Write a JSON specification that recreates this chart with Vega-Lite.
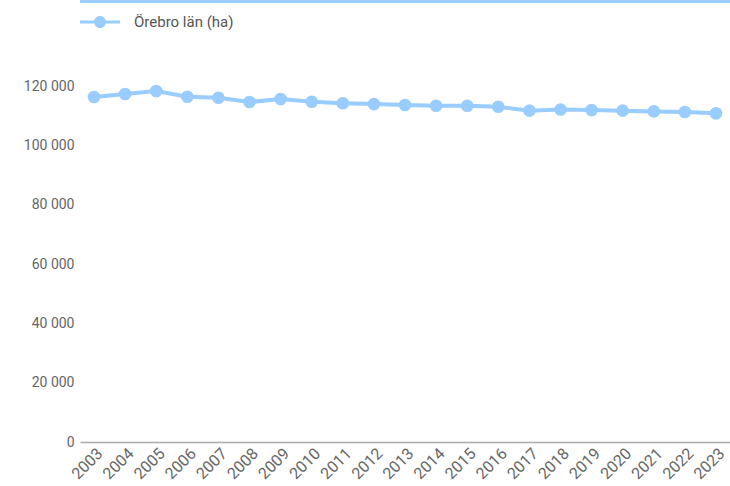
{
  "$schema": "https://vega.github.io/schema/vega-lite/v6.json",
  "width": 650,
  "height": 442,
  "padding": {"left": 80, "top": 0, "right": 0, "bottom": 44},
  "autosize": {"type": "none"},
  "background": "white",
  "config": {
    "font": "Roboto",
    "view": {"stroke": null}
  },
  "data": {
    "values": [
      {"year": "2003", "ha": 116300},
      {"year": "2004", "ha": 117300},
      {"year": "2005", "ha": 118300},
      {"year": "2006", "ha": 116400},
      {"year": "2007", "ha": 116050},
      {"year": "2008", "ha": 114600},
      {"year": "2009", "ha": 115600},
      {"year": "2010", "ha": 114700},
      {"year": "2011", "ha": 114200},
      {"year": "2012", "ha": 113900},
      {"year": "2013", "ha": 113600},
      {"year": "2014", "ha": 113350},
      {"year": "2015", "ha": 113350},
      {"year": "2016", "ha": 113000},
      {"year": "2017", "ha": 111700},
      {"year": "2018", "ha": 112100},
      {"year": "2019", "ha": 111900},
      {"year": "2020", "ha": 111700},
      {"year": "2021", "ha": 111450},
      {"year": "2022", "ha": 111250},
      {"year": "2023", "ha": 110800}
    ]
  },
  "encoding": {
    "x": {
      "field": "year",
      "type": "ordinal",
      "scale": {"type": "point", "padding": 0.45},
      "axis": {
        "title": null,
        "labelAngle": -45,
        "labelAlign": "right",
        "labelBaseline": "top",
        "labelFontSize": 16,
        "labelColor": "#666666",
        "labelPadding": 3,
        "ticks": false,
        "domainColor": "#aaaaaa",
        "domainWidth": 1.5,
        "grid": false
      }
    },
    "y": {
      "field": "ha",
      "type": "quantitative",
      "scale": {"domain": [0, 149000], "nice": false},
      "axis": {
        "title": null,
        "values": [0, 20000, 40000, 60000, 80000, 100000, 120000],
        "labelExpr": "replace(format(datum.value, ','), ',', ' ')",
        "labelFontSize": 14,
        "labelColor": "#666666",
        "labelPadding": 6,
        "ticks": false,
        "domain": false,
        "grid": false
      }
    },
    "color": {
      "datum": "Örebro län (ha)",
      "type": "nominal",
      "scale": {"range": ["#99ccff"]},
      "legend": {
        "title": null,
        "orient": "none",
        "legendX": 0,
        "legendY": 2,
        "padding": 0,
        "symbolType": "M-1,-0.07 H1 V0.07 H-1 Z M0.3,0 A0.3,0.3 0 1,1 -0.3,0 A0.3,0.3 0 1,1 0.3,0 Z",
        "symbolSize": 1600,
        "symbolStrokeWidth": 0,
        "symbolFillColor": "#99ccff",
        "labelFontSize": 15,
        "labelColor": "#555555",
        "labelOffset": 14,
        "labelFont": "Roboto",
        "encode": {
          "symbols": {"update": {"fill": {"value": "#99ccff"}, "stroke": {"value": "transparent"}}}
        }
      }
    }
  },
  "layer": [
    {
      "mark": {"type": "rule", "color": "#99ccff", "strokeWidth": 6},
      "encoding": {
        "y": {"datum": 149000},
        "x": null,
        "color": null
      }
    },
    {
      "mark": {"type": "line", "strokeWidth": 4}
    },
    {
      "mark": {"type": "point", "filled": true, "size": 160, "opacity": 1}
    }
  ]
}
